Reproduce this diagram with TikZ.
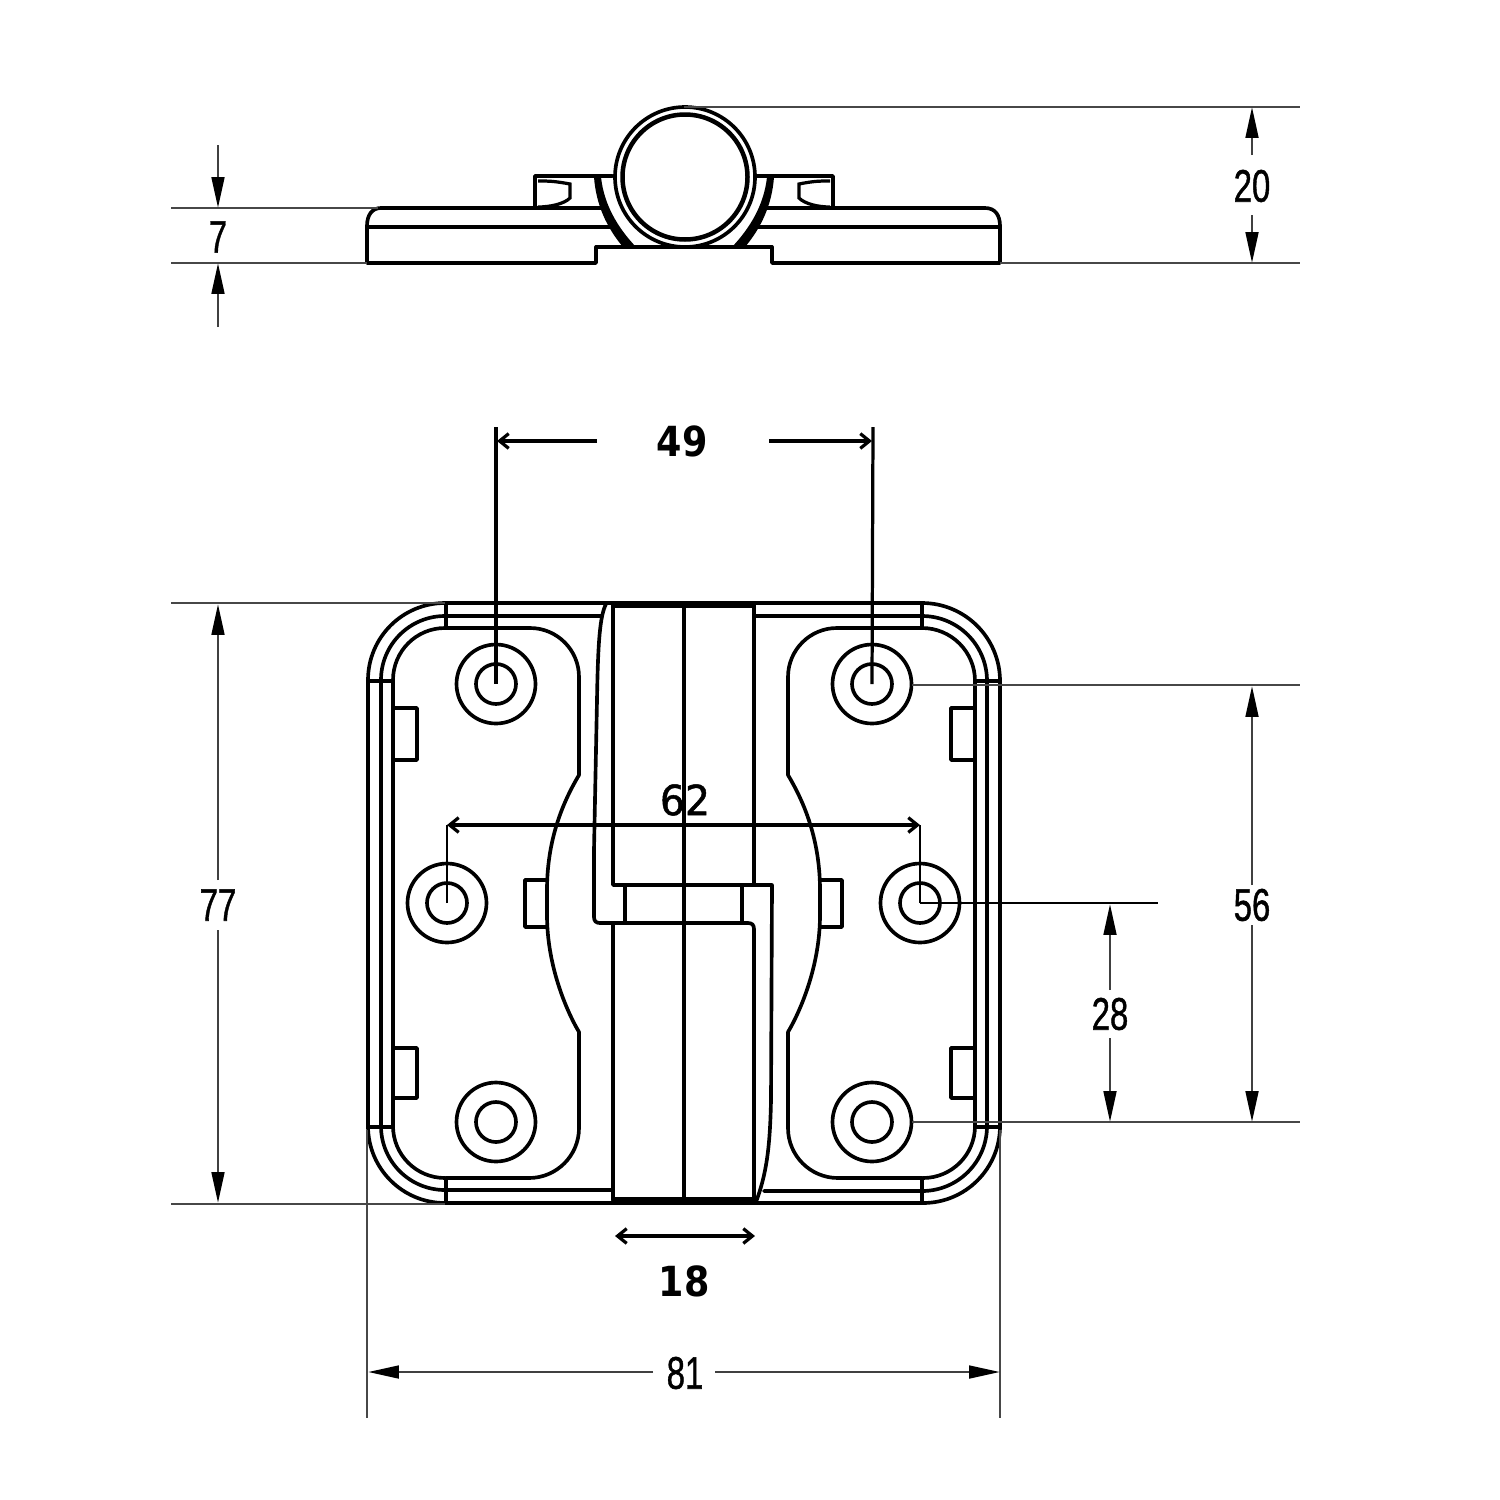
\documentclass[tikz,border=0pt]{standalone}
\usepackage{fontspec}
\usetikzlibrary{arrows.meta}
\setmainfont{Liberation Sans}
\newfontfamily\boldnum{DejaVu Sans Bold}
\newfontfamily\plainnum[FakeBold=1.2]{DejaVu Sans}
\newfontfamily\narrowbase[FakeBold=1.2]{Liberation Sans}
\newcommand{\narrownum}[1]{\scalebox{.72}[1]{\fontsize{65}{65}\narrowbase #1}}
\newcommand{\widenum}[1]{\scalebox{.88}[1]{\fontsize{59}{59}\boldnum #1}}
\newcommand{\midnum}[1]{\scalebox{.95}[1]{\fontsize{59}{59}\plainnum #1}}
\tikzset{
  part/.style={line width=5.2pt,black,line cap=round,line join=round},
  heavy/.style={line width=8.5pt,black},
  extline/.style={line width=3.8pt,black!72},
  darkline/.style={line width=4.6pt,black},
  leaderline/.style={line width=3.4pt,black},
  solidtip/.style={line width=4pt,black!75,-{Triangle[length=44pt,width=18pt,color=black]}},
  opentip/.style={line width=4.6pt,black,{Straight Barb[length=13pt,width=21pt,line width=4.6pt]}-{Straight Barb[length=13pt,width=21pt,line width=4.6pt]}},
  opentipend/.style={line width=4.6pt,black,-{Straight Barb[length=13pt,width=21pt,line width=4.6pt]}},
  dimtext/.style={inner sep=0pt,text=black,font=\normalsize},
}
\begin{document}
\begin{tikzpicture}[x=0.05cm,y=0.05cm,yscale=-1]
\useasboundingbox (0,0) rectangle (1500,1500);
\fill[white] (0,0) rectangle (1500,1500);

% ---------- top view ----------
\draw[part] (596,263) -- (367,263) -- (367,226) .. controls (367,215) and (372,208) .. (381,208) -- (985,208)
  .. controls (995,208) and (1000,215) .. (1000,226) -- (1000,263) -- (772,263) -- (772,247) -- (596,247) -- cycle;
\draw[line width=6.4pt] (367,227) -- (620,227);
\draw[line width=6.4pt] (750,227) -- (1000,227);
\fill[white] (684,177) circle[radius=84];
\draw[part] (535,208) -- (535,176) -- (612,176);
\draw[part] (833,208) -- (833,176) -- (756,176);
\draw[line width=4.6pt] (538,181) .. controls (548,181) and (554,181) .. (570,184) -- (570,198) .. controls (564,204) and (550,207) .. (538,207);
\draw[line width=4.6pt] (830,181) .. controls (820,181) and (814,181) .. (799,184) -- (799,198) .. controls (805,204) and (818,207) .. (830,207);
% saddle
\fill[black] (594,177) .. controls (596,205) and (607,228) .. (623,247) -- (636,247) .. controls (618,228) and (604,205) .. (601,177) -- cycle;
\fill[black] (774,177) .. controls (772,205) and (761,228) .. (745,247) -- (732,247) .. controls (750,228) and (764,205) .. (767,177) -- cycle;
\draw[part] (596,247) -- (772,247);
% barrel
\draw[part,fill=white] (685,177) circle[radius=70];
\draw[line width=6.4pt] (685,177) circle[radius=62.5];

% ---------- front view : outer frame ----------
\draw[part] (368,680) arc[start angle=180,end angle=270,radius=77] -- (922,603) arc[start angle=270,end angle=360,radius=78]
   -- (1000,1126) arc[start angle=0,end angle=90,radius=77] -- (445,1203) arc[start angle=90,end angle=180,radius=77] -- cycle;
\draw[part] (601,616) -- (445,616) arc[start angle=270,end angle=180,radius=64] -- (381,1126) arc[start angle=180,end angle=90,radius=64] -- (613,1190);
\draw[part] (755,616) -- (922,616) arc[start angle=270,end angle=360,radius=65] -- (987,1126) arc[start angle=0,end angle=90,radius=65] -- (764,1191);
\draw[part] (446,628) -- (445,628) arc[start angle=270,end angle=180,radius=52] -- (393,1126) arc[start angle=180,end angle=90,radius=52];
\draw[part] (922,628) arc[start angle=270,end angle=360,radius=53] -- (975,1126) arc[start angle=0,end angle=90,radius=52];
\draw[part] (368,681) -- (393,681);
\draw[part] (368,1127) -- (393,1127);
\draw[line width=6.4pt] (975,681) -- (1000,681);
\draw[line width=6.4pt] (975,1127) -- (1000,1127);
\draw[part] (446,603) -- (446,628);
\draw[part] (922,603) -- (922,628);
\draw[part] (446,1178) -- (446,1203);
\draw[part] (922,1178) -- (922,1203);

% ---------- panels ----------
\draw[part] (446,628) -- (530,628) arc[start angle=270,end angle=360,radius=49] -- (579,775)
  .. controls (566,797) and (547,835) .. (547,890) -- (547,915) .. controls (547,965) and (566,1010) .. (579,1032)
  -- (579,1128) arc[start angle=0,end angle=90,radius=50] -- (446,1178);
\draw[part] (922,628) -- (837,628) arc[start angle=270,end angle=180,radius=49] -- (788,775)
  .. controls (801,797) and (820,835) .. (820,890) -- (820,915) .. controls (820,965) and (801,1010) .. (788,1032)
  -- (788,1128) arc[start angle=180,end angle=90,radius=50] -- (922,1178);

% small lugs
\draw[part] (393,708) -- (417,708) -- (417,760) -- (393,760);
\draw[part] (393,1048) -- (417,1048) -- (417,1098) -- (393,1098);
\draw[part] (975,708) -- (951,708) -- (951,760) -- (975,760);
\draw[part] (975,1048) -- (951,1048) -- (951,1098) -- (975,1098);
\draw[part] (547,880) -- (525,880) -- (525,927) -- (547,927);
\draw[part] (820,880) -- (842,880) -- (842,927) -- (820,927);

% ---------- knuckle ----------
\draw[part] (613,605) -- (613,885) -- (772,885) -- (771,1100) .. controls (770,1150) and (766,1175) .. (756,1202);
\draw[part] (754,605) -- (754,885);
\draw[part] (684,605) -- (684,1200);
\draw[part] (606,604) .. controls (600,616) and (598,640) .. (597,700) -- (594,850) -- (594,917) .. controls (594,921) and (596,923) .. (600,923) -- (748,923) .. controls (752,923) and (754,925) .. (754,929) -- (754,1200);
\draw[part] (613,923) -- (613,1200);
\draw[part] (625,885) -- (625,923);
\draw[part] (742,885) -- (742,923);
\draw[heavy] (613,605) -- (754,605);
\draw[heavy] (613,1200) -- (754,1200);

% ---------- screw holes ----------
\coordinate (ha) at (496,684);
\coordinate (hb) at (872,684);
\coordinate (hc) at (447,903);
\coordinate (hd) at (920,903);
\coordinate (he) at (496,1122);
\coordinate (hf) at (872,1122);
\foreach \h in {ha,hb,hc,hd,he,hf}{
  \draw[part] (\h) circle[radius=39.5];
  \draw[part] (\h) circle[radius=20];
}

% ---------- dimension : 7 ----------
\coordinate (e7a) at (171,208); \coordinate (e7b) at (378,208);
\coordinate (e7c) at (171,263); \coordinate (e7d) at (367,263);
\draw[extline] (e7a) -- (e7b);
\draw[extline] (e7c) -- (e7d);
\node[dimtext] (t7) at (218,237) {\narrownum{7}};
\coordinate (a7a) at (218,145); \coordinate (a7b) at (218,208);
\coordinate (a7c) at (218,327); \coordinate (a7d) at (218,263);
\draw[solidtip] (a7a) -- (a7b);
\draw[solidtip] (a7c) -- (a7d);

% ---------- dimension : 20 ----------
\coordinate (e20a) at (684,107); \coordinate (e20b) at (1300,107);
\coordinate (e20c) at (1000,263); \coordinate (e20d) at (1300,263);
\draw[extline] (e20a) -- (e20b);
\draw[extline] (e20c) -- (e20d);
\node[dimtext] (t20) at (1252,186) {\narrownum{20}};
\coordinate (a20a) at (1252,155); \coordinate (a20b) at (1252,107);
\coordinate (a20c) at (1252,215); \coordinate (a20d) at (1252,263);
\draw[solidtip] (a20a) -- (a20b);
\draw[solidtip] (a20c) -- (a20d);

% ---------- dimension : 77 ----------
\coordinate (e77a) at (171,603); \coordinate (e77b) at (445,603);
\coordinate (e77c) at (171,1204); \coordinate (e77d) at (445,1204);
\draw[extline] (e77a) -- (e77b);
\draw[extline] (e77c) -- (e77d);
\node[dimtext] (t77) at (218,905) {\narrownum{77}};
\coordinate (a77a) at (218,880); \coordinate (a77b) at (218,604);
\coordinate (a77c) at (218,930); \coordinate (a77d) at (218,1203);
\draw[solidtip] (a77a) -- (a77b);
\draw[solidtip] (a77c) -- (a77d);

% ---------- dimension : 49 ----------
\coordinate (e49a) at (496,427); \coordinate (e49b) at (873,427);
\draw[darkline] (e49a) -- (ha);
\draw[darkline] (e49b) -- (hb);
\node[dimtext] (t49) at (682,441) {\widenum{49}};
\coordinate (a49a) at (597,441); \coordinate (a49b) at (497,441);
\coordinate (a49c) at (769,441); \coordinate (a49d) at (872,441);
\draw[opentipend] (a49a) -- (a49b);
\draw[opentipend] (a49c) -- (a49d);

% ---------- dimension : 62 ----------
\coordinate (a62a) at (447,825); \coordinate (a62b) at (920,825);
\draw[leaderline] (hc) -- (a62a);
\draw[leaderline] (hd) -- (a62b);
\draw[opentip] (a62a) -- (a62b);
\node[dimtext] (t62) at (685,800) {\midnum{62}};

% ---------- dimension : 56 ----------
\coordinate (e56a) at (912,685); \coordinate (e56b) at (1300,685);
\coordinate (e56c) at (912,1122); \coordinate (e56d) at (1300,1122);
\draw[extline] (e56a) -- (e56b);
\draw[extline] (e56c) -- (e56d);
\node[dimtext] (t56) at (1252,905) {\narrownum{56}};
\coordinate (a56a) at (1252,885); \coordinate (a56b) at (1252,686);
\coordinate (a56c) at (1252,925); \coordinate (a56d) at (1252,1122);
\draw[solidtip] (a56a) -- (a56b);
\draw[solidtip] (a56c) -- (a56d);

% ---------- dimension : 28 ----------
\coordinate (e28) at (1158,903);
\draw[leaderline] (hd) -- (e28);
\node[dimtext] (t28) at (1110,1014) {\narrownum{28}};
\coordinate (a28a) at (1110,990); \coordinate (a28b) at (1110,904);
\coordinate (a28c) at (1110,1038); \coordinate (a28d) at (1110,1122);
\draw[solidtip] (a28a) -- (a28b);
\draw[solidtip] (a28c) -- (a28d);

% ---------- dimension : 18 ----------
\coordinate (a18a) at (615,1236); \coordinate (a18b) at (755,1236);
\draw[opentip] (a18a) -- (a18b);
\node[dimtext] (t18) at (684,1281) {\widenum{18}};

% ---------- dimension : 81 ----------
\coordinate (e81a) at (367,1130); \coordinate (e81b) at (367,1418);
\coordinate (e81c) at (1000,1130); \coordinate (e81d) at (1000,1418);
\draw[extline] (e81a) -- (e81b);
\draw[extline] (e81c) -- (e81d);
\node[dimtext] (t81) at (685,1373) {\narrownum{81}};
\coordinate (a81a) at (653,1372); \coordinate (a81b) at (368,1372);
\coordinate (a81c) at (715,1372); \coordinate (a81d) at (1000,1372);
\draw[solidtip] (a81a) -- (a81b);
\draw[solidtip] (a81c) -- (a81d);
\end{tikzpicture}
\end{document}
